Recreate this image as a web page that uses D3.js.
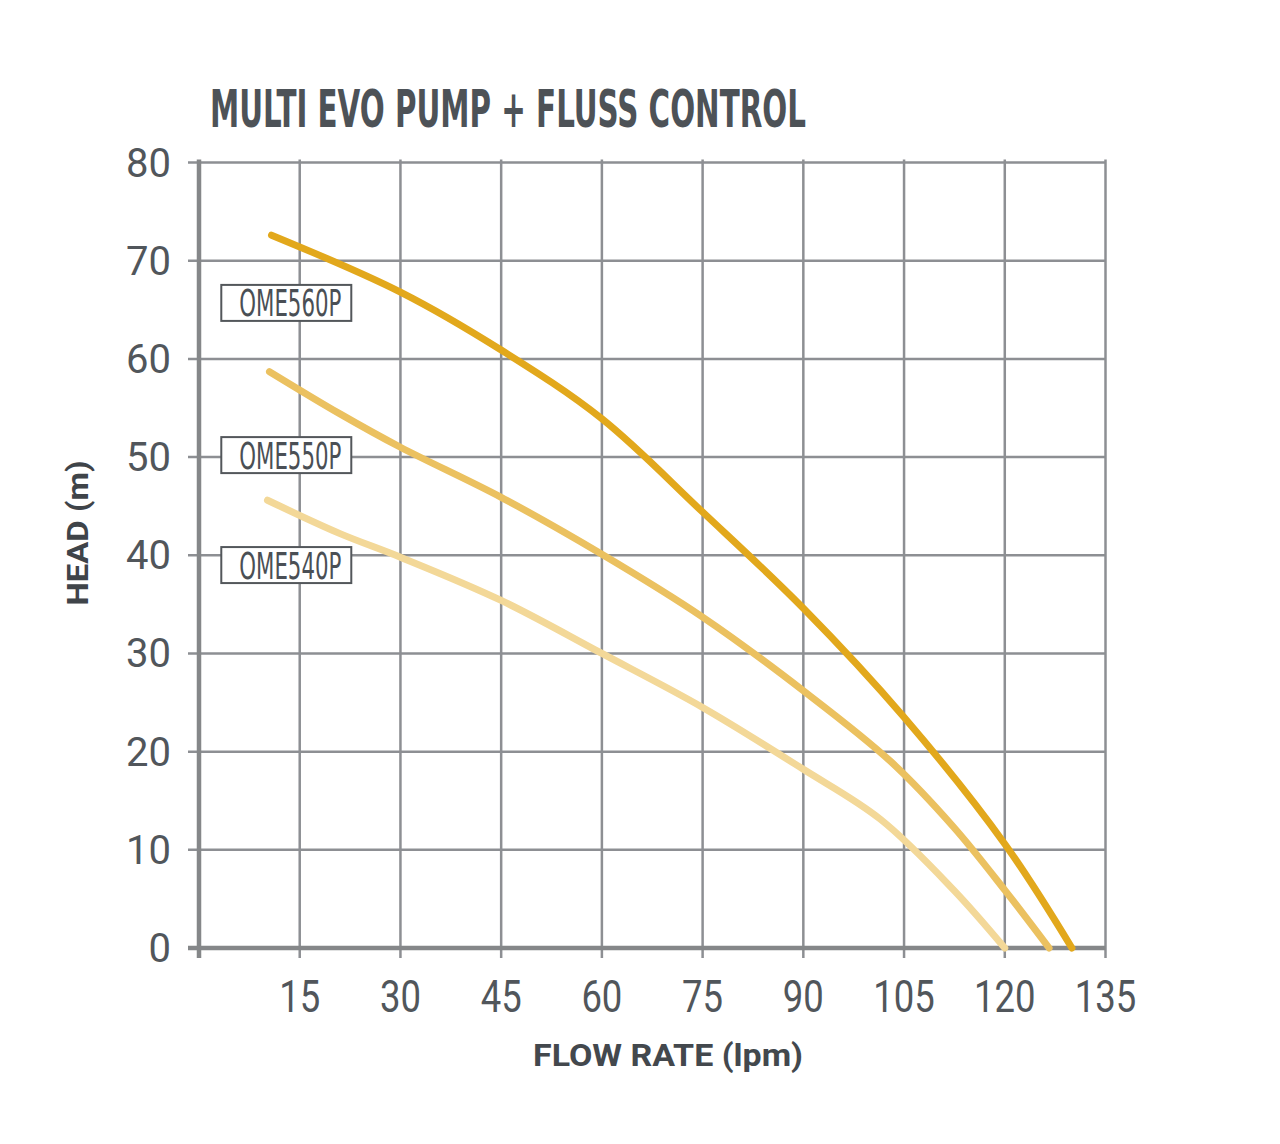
<!DOCTYPE html>
<html>
<head>
<meta charset="utf-8">
<script src="https://cdn.jsdelivr.net/npm/d3@7"></script>
<style>
  body { margin: 0; background: #ffffff; }
  svg { display: block; }
</style>
</head>
<body>
<div id="chart"></div>
<script>
// chart values
var xTicks = [15, 30, 45, 60, 75, 90, 105, 120, 135];
var yTicks = [0, 10, 20, 30, 40, 50, 60, 70, 80];

var pumpNames = ["OME560P", "OME550P", "OME540P"];
var labelHeads = [65.7, 50.2, 39.0];

var flow560 = [10.8, 30, 45, 60, 75, 90, 105, 120, 130];
var head560 = [72.6, 66.8, 60.9, 53.9, 44.4, 34.6, 23.5, 10.6, 0];

var flow550 = [10.5, 21, 30, 45, 60, 75, 90, 103, 112.4, 120, 126.6];
var head550 = [58.7, 54.4, 51.0, 45.9, 40.1, 33.7, 26.2, 19.0, 12.3, 5.9, 0];

var flow540 = [10.2, 21, 30, 45, 60, 75, 90, 101.5, 112.4, 120];
var head540 = [45.6, 42.2, 39.8, 35.4, 30.0, 24.5, 18.2, 13.1, 5.9, 0];

var lineColors = ["#e2a81c", "#ebc160", "#f3d898"];

var width = 1280, height = 1144;
var svg = d3.select("#chart").append("svg")
  .attr("width", width)
  .attr("height", height);

var x = d3.scaleLinear().domain([0, 135]).range([199, 1105.5]);
var y = d3.scaleLinear().domain([0, 80]).range([948, 162.5]);

var gridColor = "#8d8f93";
var textColor = "#51565b";

// grid lines (they poke out past the axes like ticks)
svg.append("g").selectAll("line")
  .data(yTicks.slice(1))
  .enter().append("line")
  .attr("x1", 188).attr("x2", x(135))
  .attr("y1", function (d) { return y(d); })
  .attr("y2", function (d) { return y(d); })
  .style("stroke", gridColor)
  .style("stroke-width", 2.5);

svg.append("g").selectAll("line")
  .data(xTicks)
  .enter().append("line")
  .attr("x1", function (d) { return x(d); })
  .attr("x2", function (d) { return x(d); })
  .attr("y1", 159.5).attr("y2", 958)
  .style("stroke", gridColor)
  .style("stroke-width", 2.5);

// main axes, heavier
svg.append("line")
  .attr("x1", x(0)).attr("x2", x(0))
  .attr("y1", 159.5).attr("y2", 958)
  .style("stroke", "#858789")
  .style("stroke-width", 4.5);
svg.append("line")
  .attr("x1", 188).attr("x2", x(135))
  .attr("y1", y(0)).attr("y2", y(0))
  .style("stroke", "#858789")
  .style("stroke-width", 4.5);

// tick labels
svg.append("g").selectAll("text")
  .data(yTicks)
  .enter().append("text")
  .attr("x", 171)
  .attr("y", function (d) { return y(d) + 14; })
  .attr("text-anchor", "end")
  .style("font-family", "Roboto, sans-serif")
  .style("font-size", "40px")
  .style("fill", textColor)
  .text(function (d) { return d; });

svg.append("g").selectAll("text")
  .data(xTicks)
  .enter().append("text")
  .attr("x", function (d) { return x(d); })
  .attr("y", 1012)
  .attr("text-anchor", "middle")
  .attr("textLength", function (d) { return String(d).length * 20.5; })
  .attr("lengthAdjust", "spacingAndGlyphs")
  .style("font-family", "Roboto, sans-serif")
  .style("font-size", "44px")
  .style("fill", textColor)
  .text(function (d) { return d; });

// pump curves
var curves = [
  { flow: flow560, head: head560 },
  { flow: flow550, head: head550 },
  { flow: flow540, head: head540 }
];

var line = d3.line()
  .x(function (d) { return x(d[0]); })
  .y(function (d) { return y(d[1]); })
  .curve(d3.curveCatmullRom.alpha(0.5));

svg.append("g").selectAll("path")
  .data(curves)
  .enter().append("path")
  .attr("d", function (c) { return line(d3.zip(c.flow, c.head)); })
  .style("fill", "none")
  .style("stroke", function (c, i) { return lineColors[i]; })
  .style("stroke-width", 7)
  .style("stroke-linecap", "round")
  .style("stroke-linejoin", "round");

// model label boxes
var labels = svg.append("g").selectAll("g")
  .data(pumpNames)
  .enter().append("g")
  .attr("transform", function (d, i) {
    return "translate(" + x(13) + "," + y(labelHeads[i]) + ")";
  });

labels.append("rect")
  .attr("x", -65).attr("y", -18)
  .attr("width", 130).attr("height", 36)
  .style("fill", "#ffffff")
  .style("stroke", "#53575b")
  .style("stroke-width", 2);

labels.append("text")
  .attr("x", 4)
  .attr("y", 13.5)
  .attr("text-anchor", "middle")
  .attr("textLength", 102)
  .attr("lengthAdjust", "spacingAndGlyphs")
  .style("font-family", "'Liberation Sans Narrow', 'DejaVu Sans Condensed', Roboto, sans-serif")
  .style("font-size", "37px")
  .style("fill", "#4a4f55")
  .text(function (d) { return d; });

// title and axis titles
svg.append("text")
  .attr("x", 210)
  .attr("y", 127)
  .attr("textLength", 596)
  .attr("lengthAdjust", "spacingAndGlyphs")
  .style("font-family", "'Liberation Sans Narrow', 'DejaVu Sans Condensed', Roboto, sans-serif")
  .style("font-weight", "bold")
  .style("font-size", "51px")
  .style("fill", "#4d5257")
  .text("MULTI EVO PUMP + FLUSS CONTROL");

svg.append("text")
  .attr("x", 668)
  .attr("y", 1066)
  .attr("text-anchor", "middle")
  .attr("textLength", 270)
  .attr("lengthAdjust", "spacingAndGlyphs")
  .style("font-family", "Roboto, sans-serif")
  .style("font-weight", "bold")
  .style("font-size", "32px")
  .style("fill", "#43484d")
  .text("FLOW RATE (lpm)");

svg.append("text")
  .attr("transform", "translate(88,533) rotate(-90)")
  .attr("text-anchor", "middle")
  .attr("textLength", 145)
  .attr("lengthAdjust", "spacingAndGlyphs")
  .style("font-family", "Roboto, sans-serif")
  .style("font-weight", "bold")
  .style("font-size", "30px")
  .style("fill", "#3f4449")
  .text("HEAD (m)");
</script>
</body>
</html>
